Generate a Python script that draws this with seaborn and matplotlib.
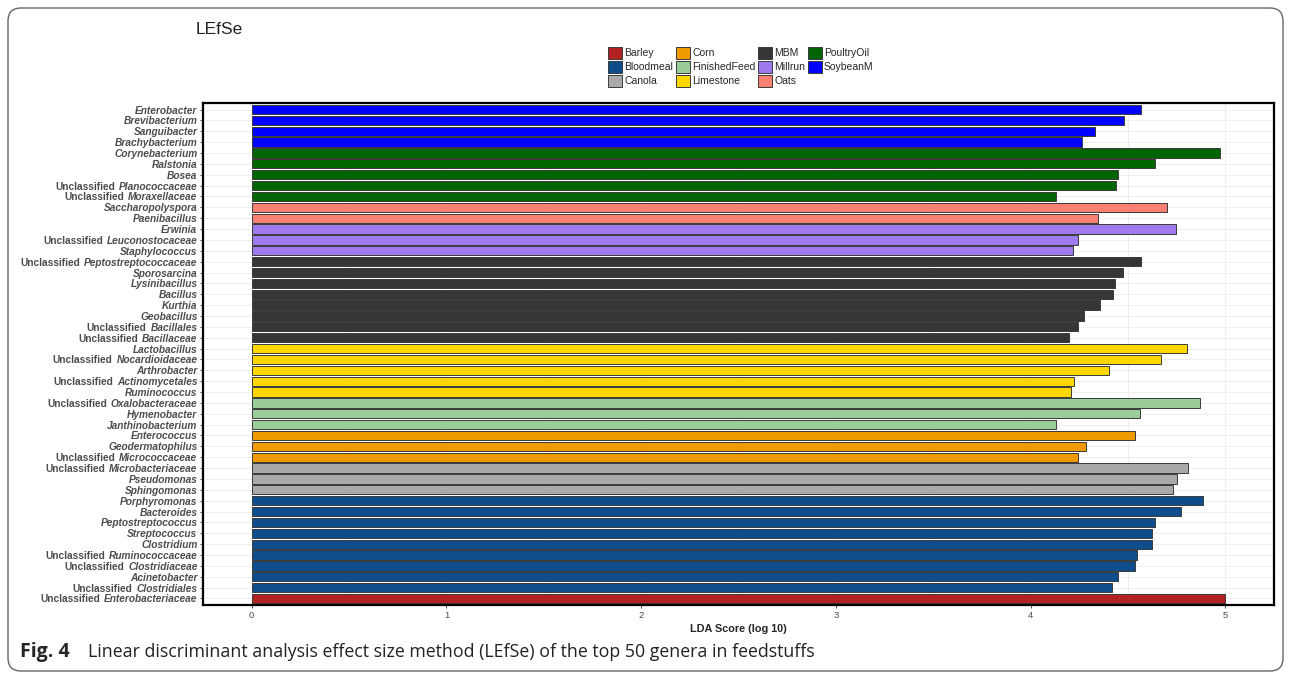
import matplotlib
matplotlib.use("Agg")
import pandas as pd
import seaborn as sns
import matplotlib.pyplot as plt
from matplotlib.patches import Patch, FancyBboxPatch

# genera, top to bottom as in the figure
genera = ["Enterobacter", "Brevibacterium", "Sanguibacter", "Brachybacterium",
          "Corynebacterium", "Ralstonia", "Bosea", "Unclassified Planococcaceae",
          "Unclassified Moraxellaceae", "Saccharopolyspora", "Paenibacillus",
          "Erwinia", "Unclassified Leuconostocaceae", "Staphylococcus",
          "Unclassified Peptostreptococcaceae", "Sporosarcina", "Lysinibacillus",
          "Bacillus", "Kurthia", "Geobacillus", "Unclassified Bacillales",
          "Unclassified Bacillaceae", "Lactobacillus", "Unclassified Nocardioidaceae",
          "Arthrobacter", "Unclassified Actinomycetales", "Ruminococcus",
          "Unclassified Oxalobacteraceae", "Hymenobacter", "Janthinobacterium",
          "Enterococcus", "Geodermatophilus", "Unclassified Micrococcaceae",
          "Unclassified Microbacteriaceae", "Pseudomonas", "Sphingomonas",
          "Porphyromonas", "Bacteroides", "Peptostreptococcus", "Streptococcus",
          "Clostridium", "Unclassified Ruminococcaceae", "Unclassified Clostridiaceae",
          "Acinetobacter", "Unclassified Clostridiales", "Unclassified Enterobacteriaceae"]

lda = [4.567, 4.482, 4.333, 4.262,
       4.973, 4.641, 4.448, 4.441, 4.133,
       4.703, 4.344,
       4.749, 4.245, 4.217,
       4.567, 4.474, 4.436, 4.422, 4.359, 4.272, 4.246, 4.195,
       4.802, 4.672, 4.402, 4.224, 4.205,
       4.872, 4.562, 4.130,
       4.535, 4.282, 4.243,
       4.807, 4.752, 4.732,
       4.887, 4.774, 4.641, 4.626, 4.621, 4.549, 4.535, 4.450, 4.417,
       5.000]

feed = (["SoybeanM"] * 4 + ["PoultryOil"] * 5 + ["Oats"] * 2 + ["Millrun"] * 3
        + ["MBM"] * 8 + ["Limestone"] * 5 + ["FinishedFeed"] * 3 + ["Corn"] * 3
        + ["Canola"] * 3 + ["Bloodmeal"] * 9 + ["Barley"])

feed_levels = ["Barley", "Bloodmeal", "Canola", "Corn", "FinishedFeed", "Limestone",
               "MBM", "Millrun", "Oats", "PoultryOil", "SoybeanM"]
feed_colors = ["#B22222", "#104E8B", "#A9A9A9", "#EE9A00", "#9BCD9B", "#FFD700",
               "#363636", "#9F79EE", "#FA8072", "#006400", "#0000FF"]
palette = dict(zip(feed_levels, feed_colors))

df = pd.DataFrame({"genus": genera, "lda": lda, "feed": feed})

sns.set_theme(style="white")
plt.rcParams["font.family"] = ["Liberation Sans", "DejaVu Sans"]

fig = plt.figure(figsize=(12.9, 6.74), dpi=100)
ax = fig.add_axes([203 / 1290, 1 - 605 / 674, (1274 - 203) / 1290, (605 - 103) / 674])

sns.barplot(data=df, x="lda", y="genus", hue="feed", order=genera,
            palette=palette, dodge=False, width=0.85, saturation=1,
            edgecolor="#3a3a3a", linewidth=0.7, legend=False, ax=ax)

ax.set_xlim(-0.25, 5.25)
ax.set_ylim(len(genera) - 0.4, -0.6)
ax.set_xticks([0, 1, 2, 3, 4, 5])
ax.set_xticks([0.5, 1.5, 2.5, 3.5, 4.5], minor=True)
ax.set_axisbelow(True)
ax.grid(True, which="both", axis="x", color="#ebebeb", lw=0.6)
ax.grid(True, which="major", axis="y", color="#ebebeb", lw=0.6)
for s in ax.spines.values():
    s.set_color("black")
    s.set_linewidth(1.6)

ax.tick_params(axis="both", which="major", length=2.5, width=0.6, color="#333333",
               left=True, bottom=True, pad=1.5)
ax.tick_params(axis="x", which="minor", length=0)
ax.tick_params(axis="x", labelsize=6.8, labelcolor="#4d4d4d")

# y labels: genus italic, "Unclassified" upright before the family name
short = [g.replace("Unclassified ", "") for g in genera]
ax.set_yticks(range(len(genera)))
ax.set_yticklabels(short, fontsize=7.3, fontweight="bold", fontstyle="italic",
                   color="#4d4d4d")
for g, lab in zip(genera, ax.get_yticklabels()):
    if g.startswith("Unclassified"):
        ax.annotate("Unclassified", xy=(0, 0.5), xycoords=lab, xytext=(-2.8, 0),
                    textcoords="offset points", ha="right", va="center",
                    fontsize=7.3, fontweight="bold", color="#4d4d4d")

ax.set_ylabel("")
ax.set_xlabel("LDA Score (log 10)", fontsize=7.8, fontweight="bold", labelpad=3)

handles = [Patch(facecolor=c, edgecolor="#3a3a3a", linewidth=0.7) for c in feed_colors]
fig.legend(handles, feed_levels, loc="center", bbox_to_anchor=(741 / 1290, 1 - 67 / 674),
           ncol=4, frameon=False, fontsize=7.5, handlelength=1.35, handleheight=1.35,
           handletextpad=0.2, columnspacing=0.25, labelspacing=0.22, borderpad=0)

fig.text(196 / 1290, 1 - 30 / 674, "LEfSe", fontsize=12.5, va="center", ha="left",
         color="#222222")

# caption
cap_y = 1 - 652 / 674
fig.text(20 / 1290, cap_y, "Fig. 4", fontsize=14, fontweight="bold",
         family=["Open Sans", "DejaVu Sans"], va="center", ha="left")
fig.text(88 / 1290, cap_y,
         "Linear discriminant analysis effect size method (LEfSe) of the top 50 genera in feedstuffs",
         fontsize=12.8, family=["Open Sans", "DejaVu Sans"], va="center", ha="left",
         color="#222222")

frame = FancyBboxPatch((0.08, 0.03), 12.75, 6.63, boxstyle="round,pad=0,rounding_size=0.13",
                       transform=fig.dpi_scale_trans, fill=False, edgecolor="#666666",
                       linewidth=1.0)
fig.patches.append(frame)

fig.savefig("out.png", dpi=100)
